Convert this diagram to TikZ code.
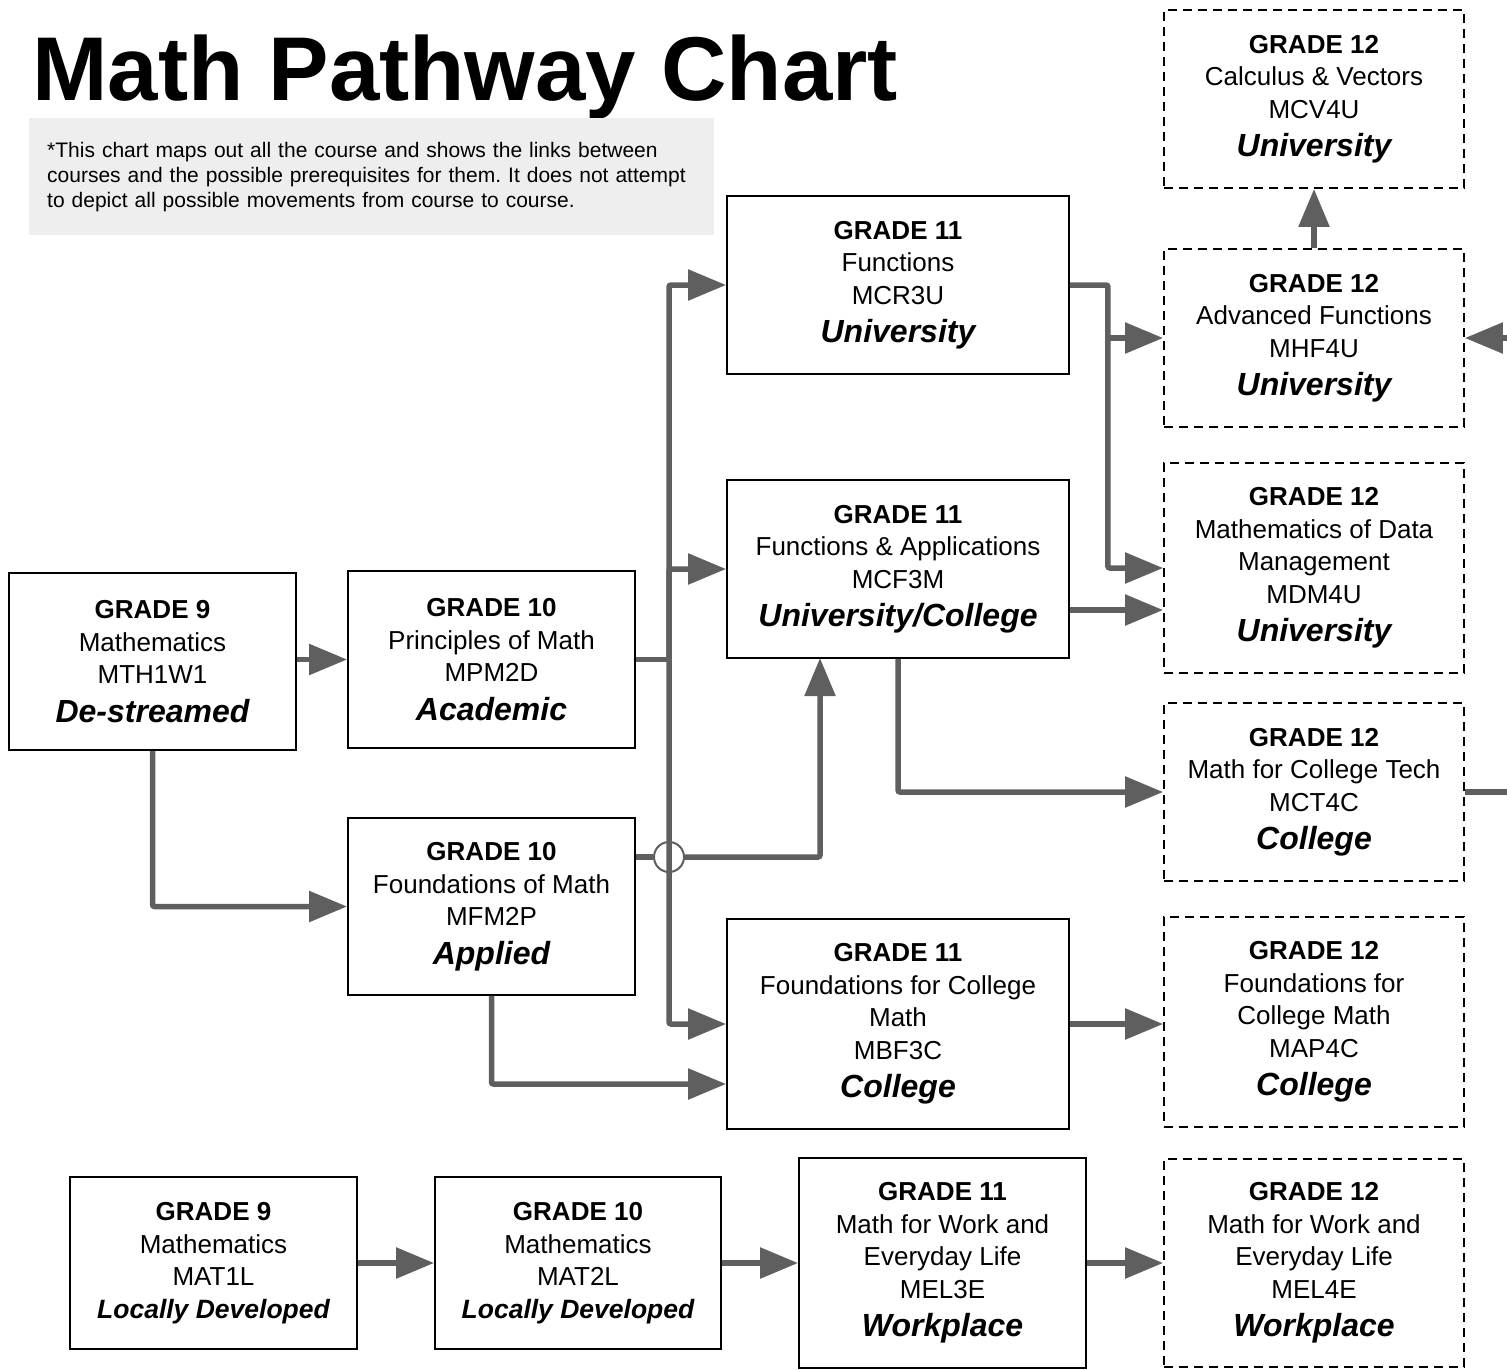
\documentclass[tikz,border=0pt]{standalone}
\usepackage{fontspec}
\setmainfont{Liberation Sans}
\usetikzlibrary{arrows.meta}
\definecolor{connc}{HTML}{5F5F5F}
\definecolor{notebg}{HTML}{EEEEEE}
\newcommand\grline[1]{{\bfseries #1}}
\newcommand\lvline[1]{{\fontsize{32}{32.5}\selectfont\bfseries\itshape #1}}
\newcommand\ldline[1]{{\fontsize{26.5}{32.5}\selectfont\bfseries\itshape #1}}
\frenchspacing
\begin{document}
\begin{tikzpicture}[x=1pt,y=-1pt,
  course/.style={draw=black, line width=1.8pt, align=center, inner sep=0pt, font=\fontsize{26}{32.5}\selectfont},
  optcourse/.style={course, dash pattern=on 9pt off 6pt},
  conn/.style={draw=connc, line width=5.5pt, rounded corners=2pt},
  arr/.style={conn, -{Triangle[length=38pt,width=30pt]}},
]
\useasboundingbox (0,0) rectangle (1507,1369);

% title and note
\node[anchor=base west, inner sep=0pt, font=\fontsize{90.6}{90}\selectfont\bfseries] (title) at (32,100) {Math Pathway Chart};
\node[fill=notebg, anchor=north west, minimum width=685pt, minimum height=117pt, text width=649pt, inner xsep=18pt, align=left, font=\fontsize{21}{25}\selectfont] (note) at (29,118)
  {*This chart maps out all the course and shows the links between\\courses and the possible prerequisites for them. It does not attempt\\to depict all possible movements from course to course.};

% grade 9/10
\node[course, minimum width=287pt, minimum height=177pt] (mth) at (152.5,661.5)
  {\grline{GRADE 9}\\Mathematics\\MTH1W1\\[6pt]\lvline{De-streamed}};
\node[course, minimum width=287pt, minimum height=177pt] (mpm) at (491.5,659.5)
  {\grline{GRADE 10}\\Principles of Math\\MPM2D\\[6pt]\lvline{Academic}};
\node[course, minimum width=287pt, minimum height=177pt] (mfm) at (491.5,906.5)
  {\grline{GRADE 10}\\Foundations of Math\\MFM2P\\[6pt]\lvline{Applied}};

% grade 11
\node[course, minimum width=342pt, minimum height=178pt] (mcr) at (898,285)
  {\grline{GRADE 11}\\Functions\\MCR3U\\[6pt]\lvline{University}};
\node[course, minimum width=342pt, minimum height=178pt] (mcf) at (898,569)
  {\grline{GRADE 11}\\Functions \& Applications\\MCF3M\\[6pt]\lvline{University/College}};
\node[course, minimum width=342pt, minimum height=210pt] (mbf) at (898,1024)
  {\grline{GRADE 11}\\Foundations for College\\Math\\MBF3C\\[6pt]\lvline{College}};

% grade 12
\node[optcourse, minimum width=300pt, minimum height=178pt] (mcv) at (1314,99)
  {\grline{GRADE 12}\\Calculus \& Vectors\\MCV4U\\[6pt]\lvline{University}};
\node[optcourse, minimum width=300pt, minimum height=178pt] (mhf) at (1314,338)
  {\grline{GRADE 12}\\Advanced Functions\\MHF4U\\[6pt]\lvline{University}};
\node[optcourse, minimum width=300pt, minimum height=210pt] (mdm) at (1314,568)
  {\grline{GRADE 12}\\Mathematics of Data\\Management\\MDM4U\\[6pt]\lvline{University}};
\node[optcourse, minimum width=300pt, minimum height=178pt] (mct) at (1314,792)
  {\grline{GRADE 12}\\Math for College Tech\\MCT4C\\[6pt]\lvline{College}};
\node[optcourse, minimum width=300pt, minimum height=210pt] (map) at (1314,1022)
  {\grline{GRADE 12}\\Foundations for\\College Math\\MAP4C\\[6pt]\lvline{College}};
\node[optcourse, minimum width=300pt, minimum height=208pt] (melf) at (1314,1263)
  {\grline{GRADE 12}\\Math for Work and\\Everyday Life\\MEL4E\\[6pt]\lvline{Workplace}};

% bottom row
\node[course, minimum width=287pt, minimum height=172pt] (mato) at (213.5,1263)
  {\grline{GRADE 9}\\Mathematics\\MAT1L\\\ldline{Locally Developed}};
\node[course, minimum width=286pt, minimum height=172pt] (matt) at (578,1263)
  {\grline{GRADE 10}\\Mathematics\\MAT2L\\\ldline{Locally Developed}};
\node[course, minimum width=287pt, minimum height=210pt] (melt) at (942.5,1263)
  {\grline{GRADE 11}\\Math for Work and\\Everyday Life\\MEL3E\\[6pt]\lvline{Workplace}};

% helper coordinates
\coordinate (jn) at (669,659.5);
\coordinate (mcfin) at (820,658);
\coordinate (jr) at ([xshift=38pt]mcr.east);
\coordinate (mcfout) at ([yshift=-41pt]mcf.east);
\coordinate (offa) at (1507,338);
\coordinate (offb) at (1507,792);

% connectors
\draw[arr] (mth.east |- mpm.west) -- (mpm.west);
\draw[arr] (mth.south) |- (mfm.west);
\draw[conn] (mpm.east) -- (jn);
\draw[arr] (jn) |- (mcr.west);
\draw[arr] (jn) |- (mcf.west);
\draw[arr] (jn) |- (mbf.west);
\node[circle, draw=connc, line width=2pt, minimum size=30pt, inner sep=0pt] (hop) at (669,857) {};
\draw[conn] (mfm.east |- hop) -- (hop.west);
\draw[arr] (hop.east) -| (mcfin);
\draw[arr] (mfm.south) |- ([yshift=-60pt]mbf.west);

\draw[arr] (mcr.east) -- (jr) |- (mdm.west);
\draw[arr] (jr |- mhf.west) -- (mhf.west);
\draw[arr] (mcfout) -- (mcfout -| mdm.west);
\draw[arr] (mcf.south) |- (mct.west);
\draw[arr] (mbf.east) -- (mbf.east -| map.west);
\draw[arr] (mhf.north) -- (mcv.south);
\draw[arr] (offa) -- (mhf.east);
\draw[conn] (mct.east) -- (offb);

\draw[arr] (mato.east) -- (matt.west);
\draw[arr] (matt.east) -- (melt.west);
\draw[arr] (melt.east) -- (melf.west);
\end{tikzpicture}
\end{document}
